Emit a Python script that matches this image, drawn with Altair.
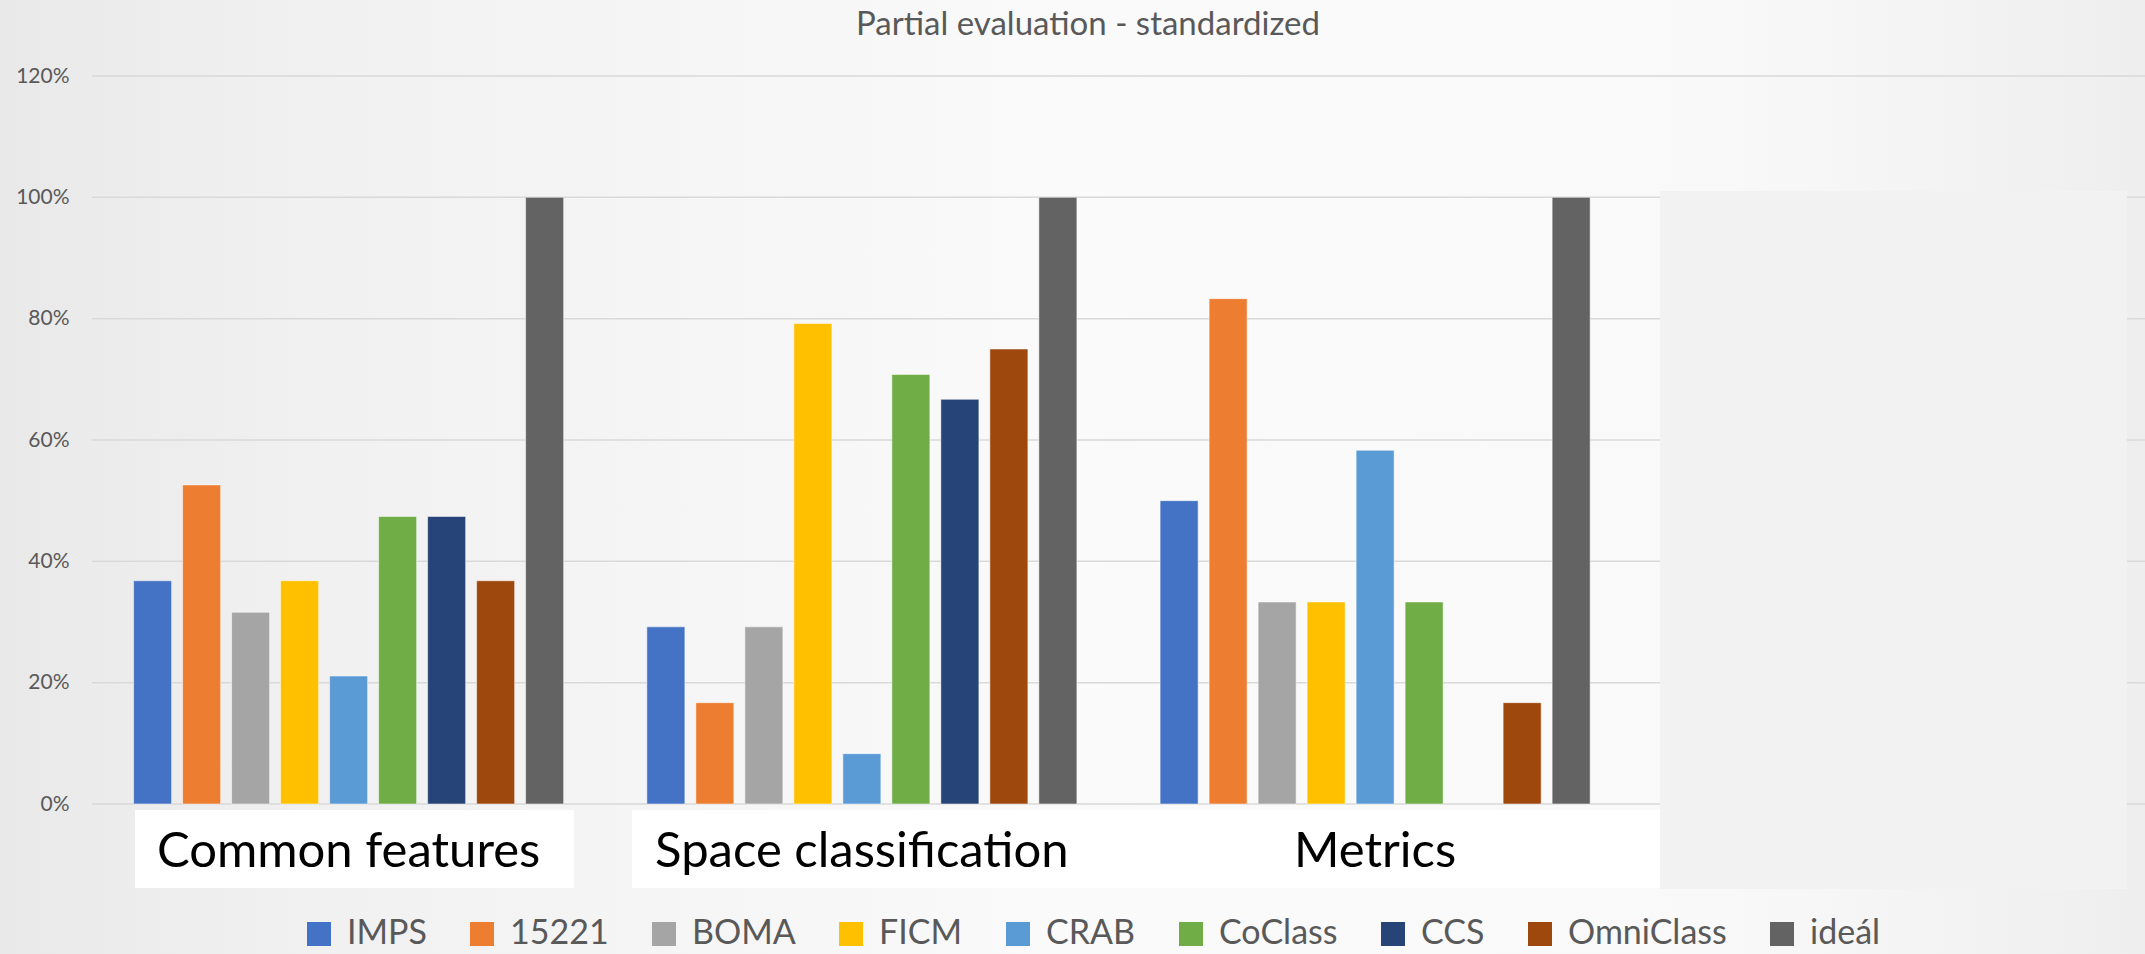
import altair as alt
import pandas as pd

# ---- data ----
categories = ["Common features", "Space classification", "Metrics"]
series = ["IMPS", "15221", "BOMA", "FICM", "CRAB", "CoClass", "CCS", "OmniClass", "ideál"]
colors = ["#4472C4", "#ED7D31", "#A5A5A5", "#FFC000", "#5B9BD5", "#70AD47", "#264478", "#9E480E", "#636363"]

common_features = [0.368, 0.526, 0.316, 0.368, 0.211, 0.474, 0.474, 0.368, 1.0]
space_classification = [0.292, 0.167, 0.292, 0.792, 0.083, 0.708, 0.667, 0.750, 1.0]
metrics = [0.500, 0.833, 0.333, 0.333, 0.583, 0.333, None, 0.167, 1.0]

y_ticks = [0, 0.2, 0.4, 0.6, 0.8, 1.0, 1.2]
title_text = "Partial evaluation - standardized"

rows = []
for cat, vals in zip(categories, [common_features, space_classification, metrics]):
    for s, v in zip(series, vals):
        rows.append({"category": cat, "series": s, "value": v})
df = pd.DataFrame(rows)
ticks_df = pd.DataFrame({"value": y_ticks})
cat_df = pd.DataFrame({"category": categories})
title_df = pd.DataFrame({"t": [title_text]})

FONT = "Lato"
GREY_TXT = "#595959"

W, H = 2053, 728
PAD_L, PAD_T = 92, 76

y_scale = alt.Scale(domain=[0, 1.2], nice=False, zero=True)
y_axis = alt.Axis(values=y_ticks, format=".0%", grid=False, domain=False, ticks=False,
                  tickSize=0, labelPadding=23, labelFont=FONT, labelFontSize=21,
                  labelColor=GREY_TXT, title=None, zindex=1)
x_scale = alt.Scale(domain=categories, paddingInner=0, paddingOuter=0.5, align=0)

# background gradient covering the whole canvas
bg = alt.Chart(title_df).mark_rect(
    fill=alt.Gradient(
        gradient="linear", x1=0, x2=1, y1=0, y2=0,
        stops=[alt.GradientStop(offset=0, color="#e9e9e9"),
               alt.GradientStop(offset=0.15, color="#f1f1f1"),
               alt.GradientStop(offset=0.5, color="#fafafa"),
               alt.GradientStop(offset=0.8, color="#f9f9f9"),
               alt.GradientStop(offset=1, color="#eeeeee")]
    )
).encode(
    x=alt.value(-PAD_L), x2=alt.value(2145 - PAD_L),
    y=alt.value(-PAD_T), y2=alt.value(954 - PAD_T)
)

grid = alt.Chart(ticks_df).mark_rule(color="#d9d9d9", strokeWidth=1.5).encode(
    y=alt.Y("value:Q", scale=y_scale, axis=y_axis)
)

bars = alt.Chart(df).mark_bar(stroke="#ffffff", strokeWidth=1, strokeOpacity=0.5).encode(
    x=alt.X("category:N", scale=x_scale, axis=None, sort=categories),
    xOffset=alt.XOffset("series:N", sort=series,
                        scale=alt.Scale(domain=series, paddingInner=0.224, paddingOuter=0.849)),
    y=alt.Y("value:Q", scale=y_scale, axis=y_axis),
    color=alt.Color("series:N", sort=series,
                    scale=alt.Scale(domain=series, range=colors),
                    legend=alt.Legend(
                        title=None, orient="none", direction="horizontal", columns=9,
                        legendX=210, legendY=841, padding=0,
                        symbolType="square", symbolSize=576, symbolStrokeWidth=0,
                        labelFont=FONT, labelFontSize=34, labelColor=GREY_TXT,
                        labelOffset=11, columnPadding=38, labelLimit=400))
)

# white boxes behind category labels (decoration)
box1 = alt.Chart(title_df).mark_rect(color="#ffffff").encode(
    x=alt.value(135 - PAD_L), x2=alt.value(574 - PAD_L),
    y=alt.value(810 - PAD_T), y2=alt.value(888 - PAD_T))
box2 = alt.Chart(title_df).mark_rect(color="#ffffff").encode(
    x=alt.value(632 - PAD_L), x2=alt.value(1662 - PAD_L),
    y=alt.value(810 - PAD_T), y2=alt.value(888 - PAD_T))

cat_labels = alt.Chart(cat_df).mark_text(
    font=FONT, fontSize=49, color="#000000", baseline="alphabetic", align="center"
).encode(
    x=alt.X("category:N", scale=x_scale, axis=None, sort=categories),
    y=alt.value(867 - PAD_T),
    text="category:N")

# grey covering box on the right (decoration)
cover = alt.Chart(title_df).mark_rect(color="#f2f2f2").encode(
    x=alt.value(1660 - PAD_L), x2=alt.value(2127 - PAD_L),
    y=alt.value(191 - PAD_T), y2=alt.value(889 - PAD_T))

title = alt.Chart(title_df).mark_text(
    font=FONT, fontSize=33, color=GREY_TXT, baseline="alphabetic", align="center"
).encode(x=alt.value(1088 - PAD_L), y=alt.value(35 - PAD_T), text="t:N")

chart = alt.layer(bg, grid, bars, box1, box2, cat_labels, cover, title).properties(
    width=W, height=H,
    autosize=alt.AutoSizeParams(type="none"),
    padding={"left": PAD_L, "top": PAD_T, "right": 0, "bottom": 954 - PAD_T - H},
    background="#f0f0f0"
).configure_view(stroke=None)

chart.save("out.html", embed_options={"renderer": "svg", "actions": False})
